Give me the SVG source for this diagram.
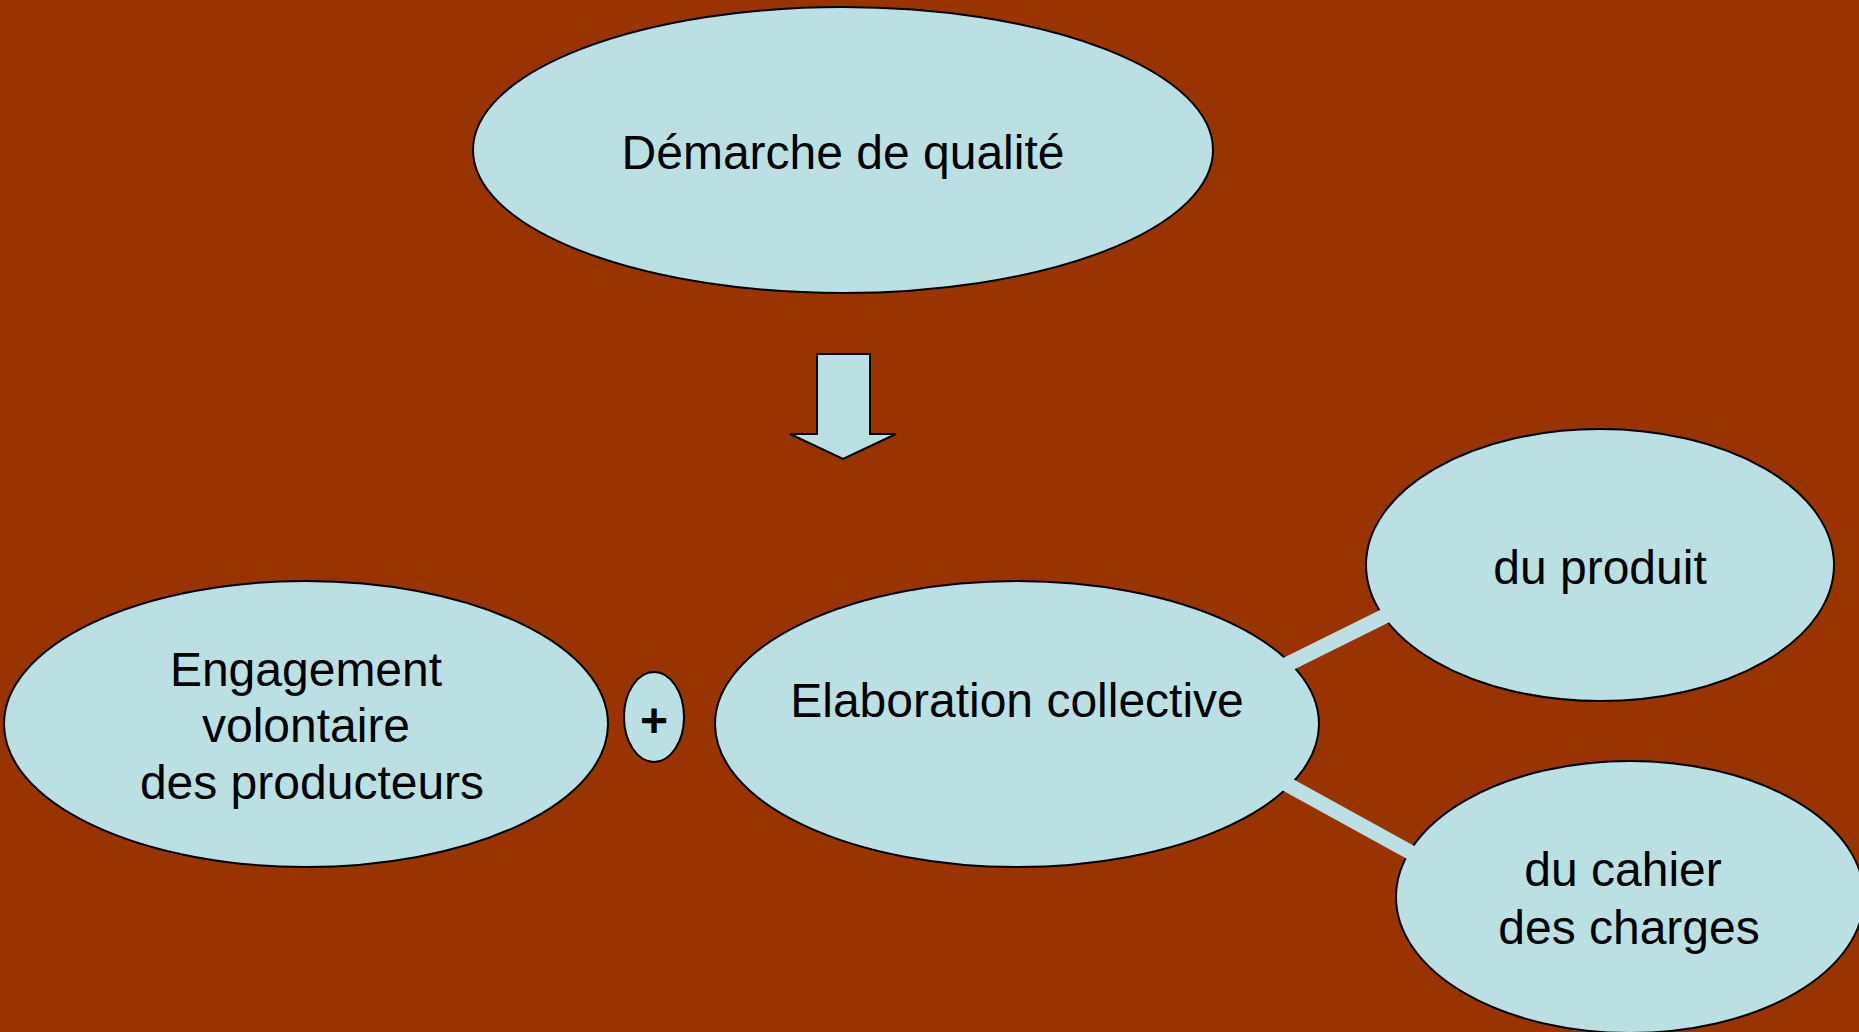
<svg xmlns="http://www.w3.org/2000/svg" width="1859" height="1032" viewBox="0 0 1859 1032">
<style>
.n{fill:#BBE0E3;stroke:#000;stroke-width:2}
.t{font-family:"Liberation Sans",Arial,sans-serif;font-size:48px;fill:#000;text-anchor:middle}
.c{stroke:#BBE0E3;stroke-width:15;fill:none}
</style>
<rect width="1859" height="1032" fill="#993300"/>
<g id="n1"><ellipse class="n" cx="843" cy="150" rx="370" ry="143"/><text class="t" x="843" y="169">Démarche de qualité</text></g>
<g id="arrow"><polygon class="n" points="817,354 870,354 870,434 896,434 843,459 790,434 817,434"/></g>
<g id="n2"><ellipse class="n" cx="306" cy="724" rx="302" ry="143"/><text class="t" x="306" y="686">Engagement</text><text class="t" x="306" y="742">volontaire</text><text class="t" x="312" y="799">des producteurs</text></g>
<g id="plus"><ellipse class="n" cx="654" cy="717" rx="30" ry="45"/><text class="t" x="654" y="737" font-weight="bold">+</text></g>
<g id="n3"><ellipse class="n" cx="1017" cy="724" rx="302" ry="143"/><text class="t" x="1017" y="717">Elaboration collective</text></g>
<g id="n4"><ellipse class="n" cx="1600" cy="565" rx="234" ry="136"/><text class="t" x="1600" y="584">du produit</text></g>
<g id="n5"><ellipse class="n" cx="1630" cy="897" rx="234" ry="136"/><text class="t" x="1623" y="886">du cahier</text><text class="t" x="1629" y="944">des charges</text></g>
<g id="connectors">
<line class="c" x1="1272" y1="672" x2="1401" y2="608"/>
<line class="c" x1="1272" y1="776" x2="1428" y2="862"/>
</g>
</svg>
